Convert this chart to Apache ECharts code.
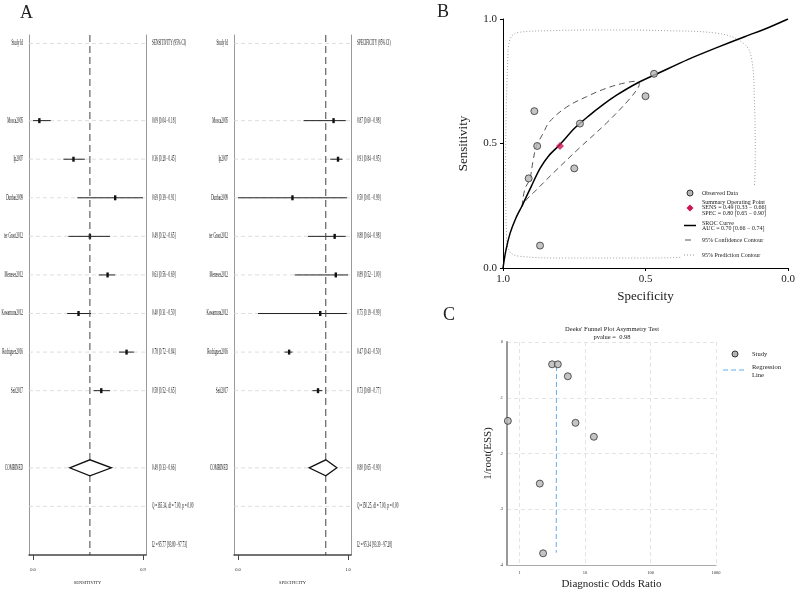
<!DOCTYPE html>
<html><head><meta charset="utf-8">
<script src="https://cdn.jsdelivr.net/npm/echarts@6/dist/echarts.min.js"></script>
<style>html,body{margin:0;padding:0;background:#fff}#c{width:798px;height:592px}</style>
</head><body><div id="c"></div>
<script>
const FONT = 'Liberation Serif';
// ---------- Panel A data ----------
const studies = ['Mosca2005','Ip2007','Dunbar2009','ter Groot2012','Meneses2012','Kawamura2012','Rodriguez2016','Seif2017'];
const sensEst = [0.09,0.36,0.69,0.49,0.63,0.40,0.78,0.58];
const sensLo  = [0.04,0.28,0.39,0.32,0.56,0.31,0.72,0.52];
const sensHi  = [0.18,0.45,0.91,0.65,0.69,0.50,0.84,0.65];
const sensCombined = [0.49,0.33,0.66];
const sensHet = ['Q =165.34, df = 7.00, p = 0.00','I2 = 95.77 [93.80 - 97.73]'];
const specEst = [0.87,0.91,0.50,0.88,0.89,0.75,0.47,0.73];
const specLo  = [0.60,0.84,0.01,0.64,0.52,0.19,0.43,0.68];
const specHi  = [0.98,0.95,0.99,0.98,1.00,0.99,0.50,0.77];
const specCombined = [0.80,0.65,0.90];
const specHet = ['Q =150.25, df = 7.00, p = 0.00','I2 = 95.34 [93.39 - 97.28]'];
// ---------- Panel B data ----------
const srocSpec = [1.0,0.99,0.975,0.955,0.933,0.90,0.87,0.84,0.80,0.75,0.70,0.65,0.60,0.53,0.45,0.35,0.25,0.15,0.07,0.0];
const srocSens = [0.0,0.07,0.14,0.20,0.25,0.33,0.40,0.45,0.496,0.56,0.61,0.655,0.695,0.742,0.785,0.838,0.885,0.93,0.965,1.0];
const ccSpec = [0.933,0.924,0.906,0.894,0.883,0.859,0.836,0.777,0.707,0.637,0.566,0.529,0.522,0.525,0.555,0.637,0.730,0.824,0.894,0.918,0.933];
const ccSens = [0.247,0.314,0.358,0.434,0.488,0.541,0.588,0.646,0.688,0.722,0.745,0.750,0.738,0.726,0.680,0.582,0.484,0.381,0.301,0.274,0.247];
const pcSpec = [0.982,0.971,0.941,0.836,0.660,0.426,0.250,0.156,0.127,0.118,0.115,0.118,0.132,0.191,0.308,0.543,0.777,0.941,0.977,0.988,0.991,0.988,0.982];
const pcSens = [0.876,0.929,0.947,0.953,0.956,0.953,0.943,0.902,0.836,0.675,0.475,0.328,0.207,0.087,0.047,0.040,0.040,0.047,0.067,0.140,0.408,0.675,0.876];
const summaryPoint = [0.80,0.49];
// ---------- Panel C data ----------
const funnelDOR = [3.13,3.83,5.44,0.66,7.13,13.6,2.03,2.28];
const funnelESS = [0.040,0.040,0.0615,0.1415,0.145,0.170,0.254,0.379];
const regDOR = [3.65,3.62];
const regESS = [0.043,0.378];
const deeksP = '0.98';

const zip = (a,b)=>a.map((v,i)=>[v,b[i]]);
const fmt = (e,l,h)=>e.toFixed(2)+' ['+l.toFixed(2)+' - '+h.toFixed(2)+']';
function buildRows(header, est, lo, hi, comb, het){
  const left = ['Study Id',''].concat(studies, ['', 'COMBINED', '', '']);
  const right = [header,''].concat(est.map((e,i)=>fmt(e,lo[i],hi[i])), ['', fmt(comb[0],comb[1],comb[2]), het[0], het[1]]);
  return {left, right};
}
const YMIN = -0.22, YMAX = 13.26;
function labelSeries(gi, rows, xmin, xmax){
  return {type:'custom', xAxisIndex:gi, yAxisIndex:gi*2, silent:true, z:1,
    data: rows.left.map((_,r)=>[xmin,r]),
    renderItem(params, api){
      const r = api.value(1);
      const pA = api.coord([xmin,r]), pB = api.coord([xmax,r]);
      const ch = [];
      if (r !== 13 && (rows.left[r] || rows.right[r]))
        ch.push({type:'line', shape:{x1:pA[0],y1:pA[1],x2:pB[0],y2:pB[1]}, style:{stroke:'#d6d6d6', lineWidth:0.8, lineDash:[4,3]}});
      if (rows.left[r]) ch.push({type:'text', x:pA[0]-6, y:pA[1], scaleX:0.45,
        style:{text:rows.left[r], fontSize:7.5, fontFamily:FONT, fill:'#111', align:'right', verticalAlign:'middle'}});
      if (rows.right[r]) ch.push({type:'text', x:pB[0]+6, y:pB[1], scaleX:0.45,
        style:{text:rows.right[r], fontSize:7.5, fontFamily:FONT, fill:'#111', align:'left', verticalAlign:'middle'}});
      return {type:'group', children:ch};
    }};
}
function forestSeries(gi, est, lo, hi, comb){
  const data = est.map((e,i)=>[lo[i], e, hi[i], i+2, 0]);
  data.push([comb[1], comb[0], comb[2], 11, 1]);
  return {type:'custom', xAxisIndex:gi, yAxisIndex:gi*2, z:3, silent:true, data,
    encode:{x:[0,1,2], y:3},
    renderItem(params, api){
      const lo=api.value(0), e=api.value(1), hi=api.value(2), row=api.value(3), kind=api.value(4);
      const pL=api.coord([lo,row]), pE=api.coord([e,row]), pH=api.coord([hi,row]);
      if (kind === 1){
        const top = api.coord([e,YMIN]), bot = api.coord([e,YMAX]);
        const h = 8;
        return {type:'group', children:[
          {type:'line', shape:{x1:top[0],y1:top[1],x2:bot[0],y2:bot[1]}, style:{stroke:'#444', lineWidth:1, lineDash:[7,4]}},
          {type:'polygon', shape:{points:[[pL[0],pE[1]],[pE[0],pE[1]-h],[pH[0],pE[1]],[pE[0],pE[1]+h]]}, style:{fill:'#fff', stroke:'#111', lineWidth:1.3}}
        ]};
      }
      return {type:'group', children:[
        {type:'line', shape:{x1:pL[0],y1:pE[1],x2:pH[0],y2:pE[1]}, style:{stroke:'#222', lineWidth:1}},
        {type:'rect', shape:{x:pE[0]-1.2,y:pE[1]-2.5,width:2.4,height:5}, style:{fill:'#111'}}
      ]};
    }};
}
const sensRows = buildRows('SENSITIVITY (95% CI)', sensEst, sensLo, sensHi, sensCombined, sensHet);
const specRows = buildRows('SPECIFICITY (95% CI)', specEst, specLo, specHi, specCombined, specHet);
const sensRange = [0.008, 0.934], specRange = [-0.026, 1.027];
const sensTicks = [Math.min(...sensLo), Math.max(...sensHi)];
const specTicks = [Math.min(...specLo), Math.max(...specHi)];

function forestX(gi, range, ticks, name){
  return {gridIndex:gi, type:'value', min:range[0], max:range[1],
    axisLine:{onZero:false, lineStyle:{color:'#444', width:1.5}},
    axisTick:{show:true, customValues:ticks, length:5, lineStyle:{color:'#444'}},
    axisLabel:{show:true, customValues:ticks, formatter:v=>v.toFixed(1), fontSize:4.5, fontFamily:FONT, color:'#222', margin:12},
    splitLine:{show:false},
    name, nameLocation:'middle', nameGap:25, nameTextStyle:{fontSize:4.5, fontFamily:FONT, color:'#222'}};
}
function forestY(gi, pos){
  return {gridIndex:gi, type:'value', inverse:true, min:YMIN, max:YMAX, position:pos,
    axisLine:{show:true, onZero:false, lineStyle:{color:'#999', width:1}},
    axisTick:{show:false}, axisLabel:{show:false}, splitLine:{show:false}};
}
const isPow10 = v => Math.abs(Math.log10(v) - Math.round(Math.log10(v))) < 1e-6;

const option = {
  backgroundColor:'#fff',
  animation:false,
  title:[
    {text:'A', left:20, top:4, padding:0, textStyle:{fontFamily:FONT, fontSize:18, fontWeight:'normal', color:'#222'}},
    {text:'B', left:437, top:3, padding:0, textStyle:{fontFamily:FONT, fontSize:18, fontWeight:'normal', color:'#222'}},
    {text:'C', left:443, top:306, padding:0, textStyle:{fontFamily:FONT, fontSize:18, fontWeight:'normal', color:'#222'}},
    {text:"Deeks' Funnel Plot Asymmetry Test\npvalue =  " + deeksP, left:612, top:325, padding:0, textAlign:'center',
      textStyle:{fontFamily:FONT, fontSize:6.5, lineHeight:8, fontWeight:'normal', color:'#222'}}
  ],
  grid:[
    {left:29, right:652, top:35, bottom:37},
    {left:234, right:447, top:35, bottom:37},
    {left:503, right:10, top:19, bottom:324},
    {left:507, right:82, top:342, bottom:27}
  ],
  xAxis:[
    forestX(0, sensRange, sensTicks, 'SENSITIVITY'),
    forestX(1, specRange, specTicks, 'SPECIFICITY'),
    {gridIndex:2, type:'value', min:0, max:1, interval:0.5, inverse:true,
      axisLine:{onZero:false, lineStyle:{color:'#000', width:1}},
      axisTick:{show:true, length:3, lineStyle:{color:'#000'}},
      axisLabel:{formatter:v=>v.toFixed(1), fontSize:11, fontFamily:FONT, color:'#222', margin:6},
      splitLine:{show:false},
      name:'Specificity', nameLocation:'middle', nameGap:22, nameTextStyle:{fontSize:13, fontFamily:FONT, color:'#222'}},
    {gridIndex:3, type:'log', logBase:10, min:0.64, max:1000,
      axisLine:{onZero:false, lineStyle:{color:'#aaa', width:1}},
      axisTick:{show:false},
      axisLabel:{formatter:v=>isPow10(v)?String(Math.round(v)):'', fontSize:4.5, fontFamily:FONT, color:'#333', margin:5},
      splitLine:{show:true, lineStyle:{color:'#ddd', type:[4,3], width:0.8}},
      minorSplitLine:{show:false},
      name:'Diagnostic Odds Ratio', nameLocation:'middle', nameGap:14, nameTextStyle:{fontSize:11, fontFamily:FONT, color:'#222'}}
  ],
  yAxis:[
    forestY(0,'left'), forestY(0,'right'), forestY(1,'left'), forestY(1,'right'),
    {gridIndex:2, type:'value', min:0, max:1, interval:0.5,
      axisLine:{show:true, onZero:false, lineStyle:{color:'#000', width:1}},
      axisTick:{show:true, length:3, lineStyle:{color:'#000'}},
      axisLabel:{formatter:v=>v.toFixed(1), fontSize:11, fontFamily:FONT, color:'#222', margin:6},
      splitLine:{show:false},
      name:'Sensitivity', nameLocation:'middle', nameGap:33, nameTextStyle:{fontSize:13, fontFamily:FONT, color:'#222'}},
    {gridIndex:3, type:'value', min:0, max:0.4, interval:0.1, inverse:true,
      axisLine:{show:true, onZero:false, lineStyle:{color:'#999', width:2}},
      axisTick:{show:false},
      axisLabel:{formatter:v=>v===0?'0':('.'+Math.round(v*10)), fontSize:4.5, fontFamily:FONT, color:'#333', margin:4},
      splitLine:{show:true, lineStyle:{color:'#ddd', type:[4,3], width:0.8}},
      name:'1/root(ESS)', nameLocation:'middle', nameGap:13, nameTextStyle:{fontSize:11, fontFamily:FONT, color:'#222'}}
  ],
  series:[
    labelSeries(0, sensRows, sensRange[0], sensRange[1]),
    labelSeries(1, specRows, specRange[0], specRange[1]),
    forestSeries(0, sensEst, sensLo, sensHi, sensCombined),
    forestSeries(1, specEst, specLo, specHi, specCombined),
    // Panel B
    {type:'line', name:'95% Prediction Contour', xAxisIndex:2, yAxisIndex:4, data:zip(pcSpec,pcSens), smooth:0.4, symbol:'none',
      lineStyle:{color:'#a0a0a0', width:1, type:[1,2]}, z:2},
    {type:'line', name:'95% Confidence Contour', xAxisIndex:2, yAxisIndex:4, data:zip(ccSpec,ccSens), smooth:0.4, symbol:'none',
      lineStyle:{color:'#555', width:1, type:[6,4]}, z:3},
    {type:'line', name:'SROC Curve', xAxisIndex:2, yAxisIndex:4, data:zip(srocSpec,srocSens), smooth:0.3, symbol:'none',
      lineStyle:{color:'#000', width:1.5}, z:4},
    {type:'scatter', name:'Observed Data', xAxisIndex:2, yAxisIndex:4, data:zip(specEst,sensEst), symbol:'circle', symbolSize:7,
      itemStyle:{color:'#b5b5b5', borderColor:'#333', borderWidth:1}, z:5},
    {type:'scatter', name:'Summary Operating Point', xAxisIndex:2, yAxisIndex:4, data:[summaryPoint], symbol:'diamond', symbolSize:8,
      itemStyle:{color:'#d0144e'}, z:6},
    // Panel C
    {type:'line', name:'Regression Line', xAxisIndex:3, yAxisIndex:5, data:zip(regDOR,regESS), symbol:'none',
      lineStyle:{color:'#62aef2', width:1, type:[5,3]}, z:3},
    {type:'scatter', name:'Study', xAxisIndex:3, yAxisIndex:5, data:zip(funnelDOR,funnelESS), symbol:'circle', symbolSize:7,
      itemStyle:{color:'#b5b5b5', borderColor:'#333', borderWidth:1}, z:4}
  ],
  graphic:[
    // Legend B
    {type:'rect', z:100, shape:{x:681,y:186,width:94,height:77}, style:{fill:'#fff'}},
    {type:'circle', z:101, shape:{cx:690,cy:193,r:3}, style:{fill:'#b5b5b5', stroke:'#333', lineWidth:1}},
    {type:'text', z:101, x:702, y:193, style:{text:'Observed Data', fontSize:6, fontFamily:FONT, fill:'#222', verticalAlign:'middle'}},
    {type:'polygon', z:101, shape:{points:[[690,204.5],[693.5,208],[690,211.5],[686.5,208]]}, style:{fill:'#d0144e'}},
    {type:'text', z:101, x:702, y:202, style:{text:'Summary Operating Point', fontSize:6, fontFamily:FONT, fill:'#222', verticalAlign:'middle'}},
    {type:'text', z:101, x:702, y:207.5, style:{text:'SENS = 0.49 [0.33 − 0.66]', fontSize:6, fontFamily:FONT, fill:'#222', verticalAlign:'middle'}},
    {type:'text', z:101, x:702, y:213, style:{text:'SPEC = 0.80 [0.65 − 0.90]', fontSize:6, fontFamily:FONT, fill:'#222', verticalAlign:'middle'}},
    {type:'line', z:101, shape:{x1:684,y1:225.5,x2:696,y2:225.5}, style:{stroke:'#000', lineWidth:1.5}},
    {type:'text', z:101, x:702, y:223, style:{text:'SROC Curve', fontSize:6, fontFamily:FONT, fill:'#222', verticalAlign:'middle'}},
    {type:'text', z:101, x:702, y:228.5, style:{text:'AUC = 0.70 [0.66 − 0.74]', fontSize:6, fontFamily:FONT, fill:'#222', verticalAlign:'middle'}},
    {type:'line', z:101, shape:{x1:685,y1:240,x2:695,y2:240}, style:{stroke:'#555', lineWidth:1, lineDash:[6,4]}},
    {type:'text', z:101, x:702, y:240, style:{text:'95% Confidence Contour', fontSize:6, fontFamily:FONT, fill:'#222', verticalAlign:'middle'}},
    {type:'line', z:101, shape:{x1:684,y1:255,x2:696,y2:255}, style:{stroke:'#999', lineWidth:1, lineDash:[1,2]}},
    {type:'text', z:101, x:702, y:255, style:{text:'95% Prediction Contour', fontSize:6, fontFamily:FONT, fill:'#222', verticalAlign:'middle'}},
    // Legend C
    {type:'circle', z:101, shape:{cx:735,cy:354,r:3}, style:{fill:'#b5b5b5', stroke:'#333', lineWidth:1}},
    {type:'text', z:101, x:752, y:354, style:{text:'Study', fontSize:6.5, fontFamily:FONT, fill:'#222', verticalAlign:'middle'}},
    {type:'line', z:101, shape:{x1:723,y1:370,x2:745,y2:370}, style:{stroke:'#62aef2', lineWidth:1, lineDash:[5,3]}},
    {type:'text', z:101, x:752, y:367, style:{text:'Regression', fontSize:6.5, fontFamily:FONT, fill:'#222', verticalAlign:'middle'}},
    {type:'text', z:101, x:752, y:375, style:{text:'Line', fontSize:6.5, fontFamily:FONT, fill:'#222', verticalAlign:'middle'}}
  ]
};
const chart = echarts.init(document.getElementById('c'), null, {renderer:'canvas'});
chart.setOption(option);
</script>
</body></html>
